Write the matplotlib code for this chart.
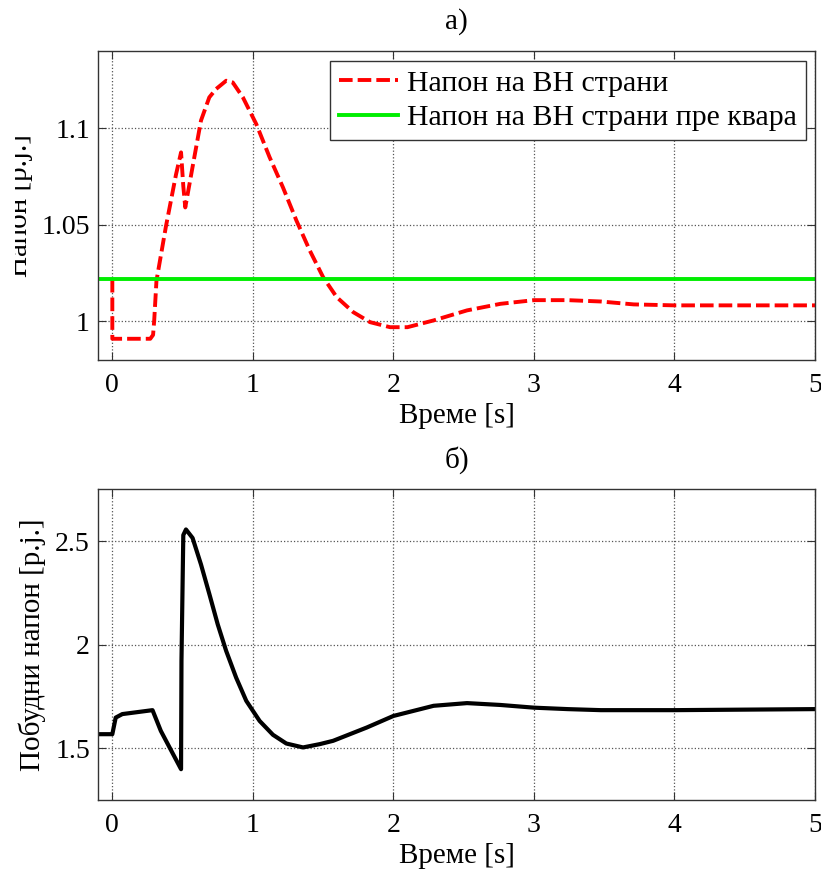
import matplotlib
matplotlib.use("Agg")
import matplotlib.pyplot as plt
from matplotlib.transforms import Bbox, TransformedBbox

plt.rcParams['font.family'] = ['Liberation Serif', 'DejaVu Serif']
plt.rcParams['font.size'] = 20

# panel a) - HV side voltage
t_hv = [0, 0, 0.27, 0.29, 0.298, 0.314, 0.381, 0.453, 0.489, 0.505, 0.519, 0.571,
        0.631, 0.69, 0.738, 0.81, 0.857, 0.929, 1.024, 1.119, 1.214, 1.31, 1.405,
        1.5, 1.596, 1.714, 1.834, 1.976, 2.1, 2.286, 2.524, 2.762, 3.0, 3.24,
        3.476, 3.71, 4.0, 5.0]
u_hv = [1.022, 0.991, 0.991, 0.993, 1.0005, 1.021, 1.049, 1.076, 1.0875, 1.07,
        1.059, 1.08, 1.104, 1.116, 1.1203, 1.1246, 1.1237, 1.116, 1.1022, 1.085,
        1.0694, 1.0522, 1.0367, 1.0229, 1.0126, 1.0048, 0.9996, 0.997, 0.997,
        1.0005, 1.0057, 1.0091, 1.011, 1.011, 1.0103, 1.0088, 1.0083, 1.0083]
u_prefault = 1.022

# panel b) - excitation voltage
t_ex = [-0.1, 0, 0.024, 0.071, 0.286, 0.345, 0.489, 0.492, 0.505, 0.524, 0.571,
        0.631, 0.691, 0.75, 0.81, 0.881, 0.953, 1.048, 1.143, 1.238, 1.357, 1.476,
        1.571, 1.81, 2.0, 2.286, 2.524, 2.762, 3.0, 3.24, 3.476, 4.0, 5.0]
u_ex = [1.569, 1.569, 1.649, 1.666, 1.685, 1.585, 1.40, 1.922, 2.53, 2.557, 2.516,
        2.388, 2.244, 2.099, 1.971, 1.842, 1.73, 1.633, 1.566, 1.524, 1.505, 1.521,
        1.537, 1.601, 1.657, 1.706, 1.719, 1.71, 1.697, 1.69, 1.685, 1.685, 1.69]

xticks = [0, 1, 2, 3, 4, 5]

fig = plt.figure(figsize=(8.21, 8.73), dpi=100)
ax1 = fig.add_axes([0.1197, 0.5876, 0.873, 0.354])
ax2 = fig.add_axes([0.1197, 0.0833, 0.873, 0.356])


def style(ax):
    ax.set_xlim(-0.1, 5)
    ax.set_xticks(xticks)
    ax.grid(True, linestyle=':', color='#555555', linewidth=0.9)
    ax.tick_params(direction='in', length=6, top=True, right=True, pad=6,
                   labelsize=20, color='#333333')
    ax.tick_params(axis='x', pad=9)
    for s in ax.spines.values():
        s.set_color('#333333')
        s.set_linewidth(1.0)
    ax.set_xlabel('Време [s]', fontsize=21, labelpad=4)


ax1.plot(t_hv, u_hv, color='red', linewidth=2.8, dashes=(3.5, 1.3),
         label='Напон на ВН страни')
ax1.axhline(u_prefault, color='#00ee00', linewidth=2.8,
            label='Напон на ВН страни пре квара')
ax1.set_ylim(0.98, 1.14)
ax1.set_yticks([1, 1.05, 1.1])
ax1.set_yticklabels(['1', '1.05', '1.1'])
style(ax1)
ax1.set_title('а)', fontsize=21, pad=16)
yl = ax1.set_ylabel('Напон [p.j.]', fontsize=21)
ax1.yaxis.set_label_coords(-0.091, 0.5)
yl.set_clip_box(TransformedBbox(Bbox([[15 / 821, 0], [1, 1]]), fig.transFigure))
yl.set_clip_on(True)
leg = ax1.legend(loc='upper right', bbox_to_anchor=(0.9875, 0.968), fontsize=21.5,
                 fancybox=False, framealpha=1, edgecolor='#333333',
                 handlelength=2.0, borderpad=0.3, labelspacing=0.25,
                 handletextpad=0.3, borderaxespad=0)
leg.get_frame().set_linewidth(1.0)

ax2.plot(t_ex, u_ex, color='black', linewidth=3)
ax2.set_ylim(1.25, 2.75)
ax2.set_yticks([1.5, 2, 2.5])
ax2.set_yticklabels(['1.5', '2', '2.5'])
style(ax2)
ax2.set_title('б)', fontsize=21, pad=16)
ax2.set_ylabel('Побудни напон [p.j.]', fontsize=21)
ax2.yaxis.set_label_coords(-0.073, 0.5)

fig.savefig('out.png', dpi=100)
